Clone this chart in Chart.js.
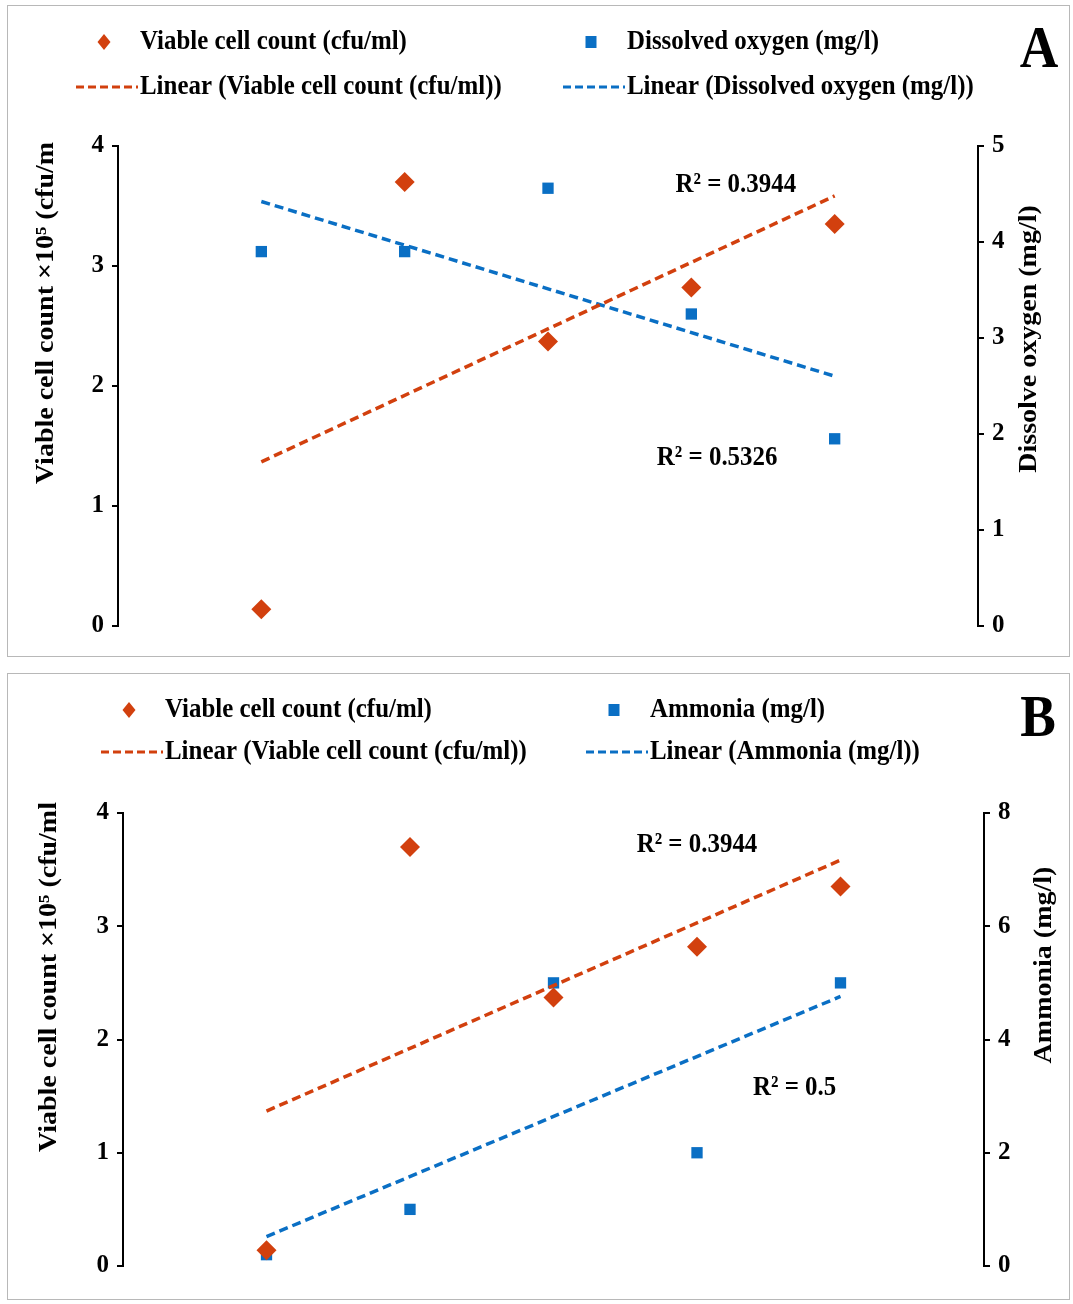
<!DOCTYPE html>
<html>
<head>
<meta charset="utf-8">
<script src="https://cdn.jsdelivr.net/npm/chart.js@4/dist/chart.umd.min.js"></script>
<style>
  body { margin: 0; background: #fff; }
  .panel { position: absolute; left: 7px; width: 1063px; border: 1px solid #b8b8b8; box-sizing: border-box; }
  .panel canvas { position: absolute; left: -1px; top: -1px; }
</style>
</head>
<body>
<div class="panel" style="top:5px;height:652px;"><canvas id="chartA" width="1063" height="652"></canvas></div>
<div class="panel" style="top:673px;height:627px;"><canvas id="chartB" width="1063" height="627"></canvas></div>
<script>
// sampling points (hidden x axis)
const samples = [1, 2, 3, 4, 5];
// viable cell count x10^5 (cfu/ml)
const viableCount = [0.14, 3.70, 2.37, 2.82, 3.35];
// dissolved oxygen (mg/l)
const dissolvedOxygen = [3.90, 3.90, 4.56, 3.25, 1.95];
// ammonia (mg/l)
const ammonia = [0.2, 1.0, 5.0, 2.0, 5.0];
// R² labels as printed on the figure
const r2TextA = ['R² = 0.3944', 'R² = 0.5326'];
const r2TextB = ['R² = 0.3944', 'R² = 0.5'];
const leftTicks = [0, 1, 2, 3, 4];
const rightTicksA = [0, 1, 2, 3, 4, 5];
const rightTicksB = [0, 2, 4, 6, 8];

const RED = '#D2400E';
const BLUE = '#0A6FC4';
const SERIF = '"Liberation Serif", "Times New Roman", serif';
const SQUEEZE = 0.89; // the figure text is a bit narrow

function toPoints(ys) {
    return samples.map((x, i) => ({ x: x, y: ys[i] }));
}

// least squares trendline from the first to the last sample
function trendline(ys) {
    const n = samples.length;
    const mx = samples.reduce((a, b) => a + b, 0) / n;
    const my = ys.reduce((a, b) => a + b, 0) / n;
    let sxy = 0, sxx = 0;
    for (let i = 0; i < n; i++) {
        sxy += (samples[i] - mx) * (ys[i] - my);
        sxx += (samples[i] - mx) * (samples[i] - mx);
    }
    const slope = sxy / sxx;
    const x0 = samples[0], x1 = samples[n - 1];
    return [{ x: x0, y: my + slope * (x0 - mx) }, { x: x1, y: my + slope * (x1 - mx) }];
}

function squeezedText(ctx, text, x, y, align, size, rotate) {
    ctx.save();
    ctx.translate(x, y);
    if (rotate) {
        ctx.rotate(-Math.PI / 2);
        ctx.scale(1, SQUEEZE);
    } else {
        ctx.scale(SQUEEZE, 1);
    }
    ctx.font = 'bold ' + size + 'px ' + SERIF;
    ctx.fillStyle = '#000';
    ctx.textAlign = align;
    ctx.textBaseline = 'middle';
    ctx.fillText(text, 0, 0);
    ctx.restore();
}

function drawMarker(ctx, style, x, y) {
    if (style === 'rectRot') {
        ctx.moveTo(x, y - 8);
        ctx.lineTo(x + 6.5, y);
        ctx.lineTo(x, y + 8);
        ctx.lineTo(x - 6.5, y);
        ctx.closePath();
    } else {
        ctx.rect(x - 5.5, y - 6, 11, 12);
    }
}

// legend, panel letter, axis titles and R² labels
const decor = {
    id: 'decor',
    afterDraw(chart) {
        const d = chart.options.plugins.decor;
        const ctx = chart.ctx;
        const sx = chart.scales.x, sy = chart.scales.y;
        const items = chart.data.datasets;
        d.legend.forEach((pos, i) => {
            const ds = items[i];
            ctx.save();
            if (ds.type === 'line') {
                ctx.strokeStyle = ds.borderColor;
                ctx.lineWidth = 3;
                ctx.setLineDash([8, 4]);
                ctx.beginPath();
                ctx.moveTo(pos[0] - 64, pos[1]);
                ctx.lineTo(pos[0] - 2, pos[1]);
                ctx.stroke();
            } else {
                ctx.fillStyle = ds.backgroundColor;
                ctx.beginPath();
                drawMarker(ctx, ds.pointStyle, pos[0] - 36, pos[1]);
                ctx.fill();
            }
            ctx.restore();
            squeezedText(ctx, ds.label, pos[0], pos[1], 'left', 28, false);
        });
        squeezedText(ctx, d.letter[0], d.letter[1], d.letter[2], 'center', 60, false);
        squeezedText(ctx, d.leftTitle[0], d.leftTitle[1], d.leftTitle[2], 'center', 28, true);
        squeezedText(ctx, d.rightTitle[0], d.rightTitle[1], d.rightTitle[2], 'center', 28, true);
        d.r2.forEach(r => {
            squeezedText(ctx, r[0], sx.getPixelForValue(r[1]), sy.getPixelForValue(r[2]), 'center', 28, false);
        });
    }
};

function axisOptions(position, max, ticks, width) {
    return {
        type: 'linear',
        position: position,
        min: 0,
        max: max,
        afterBuildTicks: scale => { scale.ticks = ticks.map(v => ({ value: v })); },
        afterFit: scale => { scale.width = width; },
        ticks: {
            color: '#000',
            padding: 8,
            font: { family: SERIF, size: 25, weight: 'bold' }
        },
        grid: {
            drawOnChartArea: false,
            color: '#000',
            lineWidth: 2,
            tickLength: 6
        },
        border: { color: '#000', width: 2 }
    };
}

function makePanel(id, cfg) {
    const canvas = document.getElementById(id);
    const W = canvas.width, H = canvas.height;
    return new Chart(canvas.getContext('2d'), {
        type: 'scatter',
        data: {
            datasets: [{
                label: 'Viable cell count (cfu/ml)',
                data: toPoints(viableCount),
                yAxisID: 'y',
                pointStyle: 'rectRot',
                pointRadius: 10,
                backgroundColor: RED,
                borderWidth: 0,
                order: 2
            }, {
                label: cfg.name,
                data: toPoints(cfg.values),
                yAxisID: 'y1',
                pointStyle: 'rect',
                pointRadius: 8,
                backgroundColor: BLUE,
                borderWidth: 0,
                order: 2
            }, {
                type: 'line',
                label: 'Linear (Viable cell count (cfu/ml))',
                data: trendline(viableCount),
                yAxisID: 'y',
                borderColor: RED,
                borderWidth: 3.5,
                borderDash: [9, 5],
                pointRadius: 0,
                fill: false,
                order: 1
            }, {
                type: 'line',
                label: 'Linear (' + cfg.name + ')',
                data: trendline(cfg.values),
                yAxisID: 'y1',
                borderColor: BLUE,
                borderWidth: 3.5,
                borderDash: [9, 5],
                pointRadius: 0,
                fill: false,
                order: 1
            }]
        },
        options: {
            responsive: false,
            animation: false,
            layout: { padding: { top: cfg.area.top, bottom: H - cfg.area.bottom, left: 0, right: 0 } },
            plugins: {
                legend: { display: false },
                tooltip: { enabled: false },
                decor: cfg.decor
            },
            scales: {
                x: { type: 'linear', min: 0, max: 6, display: false },
                y: axisOptions('left', 4, leftTicks, cfg.area.left),
                y1: axisOptions('right', cfg.rightMax, cfg.rightTicks, W - cfg.area.right)
            }
        },
        plugins: [decor]
    });
}

makePanel('chartA', {
    name: 'Dissolved oxygen (mg/l)',
    values: dissolvedOxygen,
    rightMax: 5,
    rightTicks: rightTicksA,
    area: { left: 111, right: 971, top: 141, bottom: 621 },
    decor: {
        legend: [[133, 37], [620, 37], [133, 82], [620, 82]],
        letter: ['A', 1032, 46],
        leftTitle: ['Viable cell count ×10⁵ (cfu/m', 40, 308],
        rightTitle: ['Dissolve oxygen (mg/l)', 1023, 334],
        r2: [[r2TextA[0], 4.31, 3.68], [r2TextA[1], 4.18, 1.40]]
    }
});

makePanel('chartB', {
    name: 'Ammonia (mg/l)',
    values: ammonia,
    rightMax: 8,
    rightTicks: rightTicksB,
    area: { left: 116, right: 977, top: 140, bottom: 593 },
    decor: {
        legend: [[158, 37], [643, 37], [158, 79], [643, 79]],
        letter: ['B', 1031, 47],
        leftTitle: ['Viable cell count ×10⁵ (cfu/ml', 43, 304],
        rightTitle: ['Ammonia (mg/l)', 1038, 292],
        r2: [[r2TextB[0], 4.0, 3.72], [r2TextB[1], 4.68, 1.57]]
    }
});
</script>
</body>
</html>
